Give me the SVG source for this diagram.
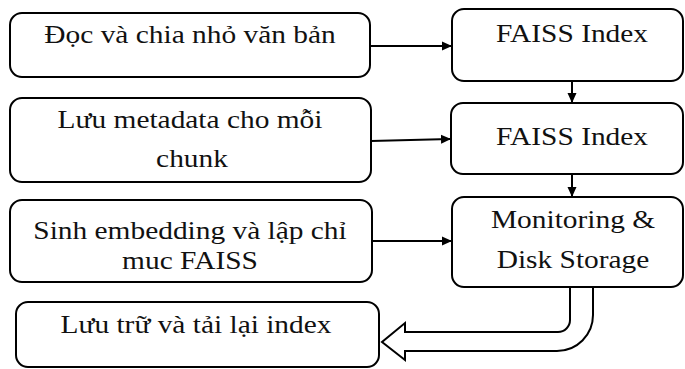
<svg xmlns="http://www.w3.org/2000/svg" width="685" height="369" viewBox="0 0 685 369">
<style>
.box{fill:#fff;stroke:#000;stroke-width:2}
.t{font-family:'Liberation Serif','Times New Roman',serif;font-size:24.5px;fill:#111;text-anchor:middle}
.c{stroke:#000;stroke-width:2;fill:none}
.blk{fill:#fff;stroke:#000;stroke-width:2;stroke-linejoin:miter}
</style>
<defs>
<marker id="ah" markerWidth="10" markerHeight="10" refX="9" refY="5" orient="auto" markerUnits="userSpaceOnUse">
<path d="M0,0.5 L10,5 L0,9.5 Z" fill="#000"/>
</marker>
</defs>
<rect width="685" height="369" fill="#fff"/>
<g id="connectors">
<line class="c" x1="370" y1="46" x2="451" y2="46" marker-end="url(#ah)"/>
<line class="c" x1="371" y1="141" x2="450" y2="139" marker-end="url(#ah)"/>
<line class="c" x1="372" y1="241" x2="451" y2="241" marker-end="url(#ah)"/>
<line class="c" x1="572" y1="81" x2="572" y2="102" marker-end="url(#ah)"/>
<line class="c" x1="572" y1="174" x2="572" y2="196" marker-end="url(#ah)"/>
<path class="blk" d="M570,287 L570,320 A12,12 0 0 1 558,332 L405,332 L405,323 L382,342 L405,360 L405,351 L557,351 A36,36 0 0 0 593,315 L593,287"/>
</g>
<g id="n1">
<rect class="box" x="10" y="13" width="360" height="64" rx="12"/>
<text class="t" transform="translate(190 43) scale(1.2 1)">Đọc và chia nhỏ văn bản</text>
</g>
<g id="n2">
<rect class="box" x="452" y="9" width="231" height="72" rx="12"/>
<text class="t" transform="translate(572 42) scale(1.2 1)">FAISS Index</text>
</g>
<g id="n3">
<rect class="box" x="10" y="98" width="361" height="84" rx="12"/>
<text class="t" transform="translate(190 128) scale(1.2 1)">Lưu metadata cho mỗi</text>
<text class="t" transform="translate(192 167) scale(1.2 1)">chunk</text>
</g>
<g id="n4">
<rect class="box" x="451" y="103" width="232" height="71" rx="12"/>
<text class="t" transform="translate(572 145) scale(1.2 1)">FAISS Index</text>
</g>
<g id="n5">
<rect class="box" x="10" y="200" width="362" height="82" rx="12"/>
<text class="t" transform="translate(190 239) scale(1.2 1)">Sinh embedding và lập chỉ</text>
<text class="t" transform="translate(190 269) scale(1.2 1)">muc FAISS</text>
</g>
<g id="n6">
<rect class="box" x="452" y="197" width="231" height="90" rx="12"/>
<text class="t" transform="translate(573 228) scale(1.2 1)">Monitoring &amp;</text>
<text class="t" transform="translate(573 268) scale(1.2 1)">Disk Storage</text>
</g>
<g id="n7">
<rect class="box" x="16" y="302" width="363" height="65" rx="12"/>
<text class="t" transform="translate(196 333) scale(1.2 1)">Lưu trữ và tải lại index</text>
</g>
</svg>
